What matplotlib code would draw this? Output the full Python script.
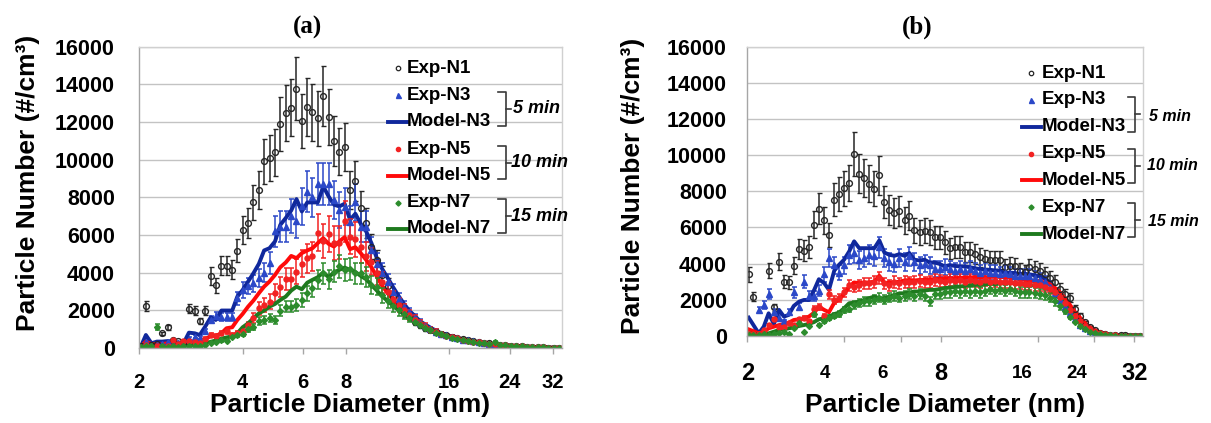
import matplotlib
matplotlib.use('Agg')
import matplotlib.pyplot as plt
from matplotlib.ticker import NullLocator, NullFormatter
import numpy as np

plt.rcParams['font.family'] = ['Liberation Sans', 'DejaVu Sans']

# SMPS bin mid-points (nm)
diam = [2.02, 2.09, 2.17, 2.25, 2.33, 2.42, 2.51, 2.60, 2.69, 2.79,
        2.90, 3.00, 3.11, 3.23, 3.34, 3.47, 3.59, 3.73, 3.86, 4.00,
        4.15, 4.30, 4.46, 4.62, 4.79, 4.97, 5.15, 5.34, 5.54, 5.74,
        5.95, 6.17, 6.39, 6.62, 6.87, 7.12, 7.38, 7.65, 7.93, 8.22,
        8.52, 8.83, 9.16, 9.49, 9.84, 10.2, 10.6, 11.0, 11.4, 11.8,
        12.2, 12.7, 13.1, 13.6, 14.1, 14.6, 15.1, 15.7, 16.3, 16.9,
        17.5, 18.1, 18.8, 19.5, 20.2, 20.9, 21.7, 22.5, 23.3, 24.2,
        25.1, 26.0, 26.9, 27.9, 29.0, 30.0, 31.1, 32.2, 33.4]

# ---- panel (a) ----
a_n1 = [100, 2230, 150, 200, 780, 1100, 450, 350, 200, 2090,
        1990, 1440, 1990, 3830, 3330, 4380, 4380, 4150, 5160, 6280,
        6630, 7730, 8370, 9920, 10100, 10390, 11910, 12480, 12770, 13780,
        12060, 12800, 12520, 12200, 13370, 12270, 11010, 10410, 10670, 8400,
        8850, 7430, 6630, 5390, 4650, 3900, 3300, 2700, 2300, 1900,
        1700, 1400, 1200, 1050, 950, 850, 750, 680, 600, 530,
        470, 420, 370, 320, 280, 240, 210, 180, 160, 130,
        110, 90, 70, 55, 40, 30, 20, 10, 5]
a_n3_exp = [0, 300, 100, 150, 200, 300, 150, 250, 100, 500,
            600, 550, 900, 1500, 1700, 1630, 1630, 1630, 2640, 3080,
            3300, 3440, 3700, 4000, 4500, 6190, 6450, 6450, 7020, 6720,
            7520, 8300, 8000, 8700, 8700, 8700, 7870, 7340, 7500, 6670,
            7730, 6450, 6450, 5210, 4470, 4000, 3500, 3000, 2600, 2200,
            1900, 1600, 1350, 1150, 1000, 870, 760, 670, 590, 520,
            450, 400, 350, 300, 260, 220, 190, 160, 140, 115,
            95, 80, 65, 50, 40, 30, 20, 15, 10]
a_n3_mod = [70, 690, 250, 340, 340, 370, 340, 280, 250, 815,
            780, 690, 1130, 1630, 1490, 1990, 1990, 1990, 2730, 3080,
            3530, 3970, 4470, 5180, 5300, 5660, 6540, 6900, 7300, 7910,
            7250, 7730, 7730, 7730, 8580, 8050, 7610, 7520, 7660, 6810,
            7130, 6600, 6190, 5570, 4770, 4200, 3700, 3200, 2750, 2350,
            2000, 1700, 1450, 1250, 1080, 930, 800, 700, 610, 530,
            460, 400, 350, 300, 260, 220, 190, 160, 140, 115,
            95, 80, 65, 50, 40, 30, 20, 15, 10]
a_n5_exp = [0, 150, 60, 80, 60, 120, 420, 200, 350, 350,
            300, 250, 500, 700, 650, 800, 900, 700, 800, 900,
            1200, 1600, 2100, 2300, 2460, 2910, 3230, 3650, 3650, 4060,
            4470, 4770, 4860, 6130, 5660, 6060, 5570, 5600, 6720, 5920,
            5780, 5390, 4860, 4590, 3970, 3500, 3000, 2600, 2300, 2000,
            1750, 1500, 1300, 1130, 980, 860, 750, 660, 580, 510,
            450, 390, 340, 295, 255, 220, 190, 165, 140, 120,
            100, 85, 68, 54, 42, 32, 23, 15, 9]
a_n5_mod = [70, 340, 210, 210, 210, 250, 280, 250, 250, 340,
            340, 430, 460, 640, 640, 780, 1050, 1100, 1490, 1810,
            2200, 2520, 2910, 3260, 3530, 3880, 4290, 4540, 4890, 4770,
            5040, 5180, 5300, 5570, 5830, 5530, 5390, 5660, 5890, 5250,
            5350, 5040, 4680, 4290, 3790, 3300, 2900, 2550, 2250, 1980,
            1720, 1500, 1300, 1130, 980, 850, 740, 650, 570, 500,
            440, 385, 335, 290, 250, 215, 185, 160, 140, 118,
            98, 82, 66, 52, 40, 30, 21, 14, 8]
a_n7_exp = [50, 100, 80, 1100, 80, 60, 80, 60, 80, 90,
            100, 120, 150, 250, 300, 400, 350, 600, 700, 750,
            1000, 1100, 1450, 1500, 1600, 1490, 1990, 2200, 2200, 2290,
            2550, 2910, 3170, 3620, 3970, 3650, 4060, 4330, 4150, 4180,
            3970, 3970, 3760, 3350, 3260, 2800, 2500, 2250, 2000, 1800,
            1600, 1400, 1230, 1080, 940, 820, 720, 630, 550, 480,
            420, 370, 320, 280, 245, 210, 330, 155, 135, 115,
            95, 80, 65, 52, 40, 30, 21, 14, 8]
a_n7_mod = [50, 150, 120, 100, 100, 100, 100, 110, 120, 150,
            180, 200, 250, 330, 400, 500, 560, 620, 780, 1100,
            1310, 1580, 1840, 1990, 2200, 2340, 2550, 2730, 3050, 3260,
            3120, 3470, 3620, 3760, 4010, 3760, 4010, 4150, 4270, 4150,
            4040, 3830, 3650, 3350, 3050, 2750, 2480, 2230, 2000, 1780,
            1580, 1390, 1220, 1070, 930, 810, 710, 620, 545, 478,
            420, 368, 322, 280, 244, 210, 182, 157, 135, 115,
            96, 80, 65, 52, 40, 30, 21, 14, 8]

# ---- panel (b) ----
b_n1 = [3410, 2170, 50, 50, 3610, 1575, 4110, 3000, 2950, 3870,
        4800, 4720, 4910, 6150, 7040, 6390, 5600, 7540, 7860, 8170,
        8470, 10060, 8970, 8750, 8430, 8150, 8880, 7390, 6950, 6800,
        6910, 6390, 6650, 5840, 5740, 5820, 5740, 5450, 5450, 5170,
        4850, 4910, 4910, 4630, 4630, 4540, 4340, 4240, 4170, 4170,
        4170, 3800, 3890, 3840, 3610, 3520, 3800, 3700, 3600, 3400,
        3200, 3000, 2600, 2300, 2100, 1500, 1100, 750, 480, 300,
        170, 100, 60, 35, 20, 12, 8, 5, 5]
b_n3_exp = [0, 0, 1400, 1700, 2300, 1300, 1000, 800, 1300, 2400,
            1600, 3000, 2200, 2200, 2500, 3400, 4300, 3900, 3500, 3900,
            4500, 4600, 4200, 4300, 4500, 4400, 4900, 4300, 4100, 4000,
            4300, 4100, 4400, 4100, 3900, 4000, 3900, 3700, 3700, 3800,
            3700, 3600, 3700, 3600, 3700, 3600, 3500, 3600, 3500, 3500,
            3400, 3500, 3400, 3300, 3300, 3300, 3300, 3200, 3100, 2950,
            2700, 2350, 2000, 1600, 1250, 900, 620, 400, 250, 150,
            85, 45, 22, 10, 5, 3, 2, 1, 0]
b_n3_mod = [1000, 590, 130, 500, 1240, 650, 1430, 1060, 1150, 1650,
            1890, 1980, 1980, 2540, 3130, 2910, 2540, 3610, 3930, 4210,
            4670, 5230, 4850, 4850, 4850, 4850, 5280, 4610, 4480, 4430,
            4520, 4430, 4580, 4210, 4170, 4210, 4060, 4060, 3980, 3840,
            3910, 3870, 3840, 3840, 3800, 3740, 3690, 3650, 3650, 3610,
            3610, 3470, 3500, 3470, 3430, 3430, 3400, 3350, 3300, 3150,
            2950, 2650, 2300, 1900, 1500, 1100, 780, 520, 330, 200,
            110, 60, 30, 15, 8, 4, 2, 1, 0]
b_n5_exp = [100, 80, 100, 300, 600, 900, 500, 500, 700, 600,
            900, 1000, 800, 1500, 1600, 1100, 2300, 2000, 2100, 2400,
            2800, 2700, 2800, 2900, 2900, 3000, 3200, 2900, 2800, 3000,
            2900, 3000, 2950, 3000, 3050, 2950, 3000, 3100, 3050, 3000,
            3100, 3050, 3100, 3000, 3100, 3050, 3000, 3100, 3000, 3050,
            3000, 2950, 3000, 2900, 2900, 2850, 2850, 2800, 2800, 2700,
            2600, 2400, 2150, 1800, 1450, 1100, 800, 560, 370, 230,
            130, 75, 40, 20, 10, 6, 3, 2, 1]
b_n5_mod = [350, 250, 130, 220, 410, 500, 590, 650, 720, 870,
            910, 960, 1060, 1280, 1610, 1430, 1300, 1830, 2020, 2320,
            2720, 2950, 2910, 2950, 2950, 3000, 3320, 2910, 2950, 2950,
            3000, 3060, 3090, 3060, 3090, 3090, 3130, 3130, 3170, 3170,
            3190, 3190, 3210, 3210, 3230, 3240, 3240, 3240, 3260, 3260,
            3260, 3240, 3210, 3170, 3130, 3090, 3050, 3020, 3000, 2950,
            2850, 2650, 2400, 2050, 1700, 1330, 1000, 700, 470, 300,
            180, 100, 55, 30, 15, 8, 4, 2, 1]
b_n7_exp = [30, 50, 30, 80, 60, 100, 150, 200, 80, 400,
            700, 200, 550, 1200, 600, 800, 1000, 1100, 1200, 1400,
            1500, 1700, 1800, 1900, 1900, 2000, 2100, 2000, 2100, 2200,
            2100, 2200, 2300, 2200, 2300, 2200, 1900, 2300, 2300, 2400,
            2400, 2500, 2400, 2500, 2400, 2500, 2400, 2500, 2600, 2500,
            2600, 2500, 2600, 2500, 2400, 2400, 2400, 2350, 2300, 2250,
            2100, 1900, 1650, 1350, 1050, 780, 540, 350, 215, 125,
            70, 38, 18, 10, 5, 3, 2, 1, 0]
b_n7_mod = [130, 100, 60, 100, 130, 220, 315, 350, 410, 460,
            540, 590, 650, 760, 910, 960, 1060, 1200, 1280, 1520,
            1800, 1830, 1890, 1980, 2080, 2170, 2080, 2080, 2170, 2260,
            2350, 2350, 2390, 2450, 2450, 2500, 2540, 2540, 2580, 2630,
            2670, 2690, 2720, 2760, 2800, 2820, 2820, 2850, 2870, 2870,
            2890, 2910, 2910, 2910, 2870, 2850, 2800, 2780, 2750, 2700,
            2550, 2350, 2050, 1700, 1350, 1000, 700, 460, 290, 170,
            95, 50, 25, 13, 6, 3, 2, 1, 0]

# relative error bars of the experimental series (N1, N3, N5, N7)
a_err = [0.12, 0.13, 0.16, 0.14]
b_err = [0.12, 0.12, 0.11, 0.12]

xtick_vals = [2, 4, 6, 8, 16, 24, 32]
xtick_text = ['2', '4', '6', '8', '16', '24', '32']
legend_names = ['Exp-N1', 'Exp-N3', 'Model-N3', 'Exp-N5', 'Model-N5',
                'Exp-N7', 'Model-N7']
time_labels = ['5 min', '10 min', '15 min']

BLACK = '#262626'
BLUE_L = '#10289C'
BLUE_M = '#2B48C8'
RED_L = '#FF0A0A'
RED_M = '#F22222'
GREEN_L = '#1E7A1E'
GREEN_M = '#2C8C2C'
GRID = '#C3C3C3'


def draw_panel(ax, n1, n3e, n3m, n5e, n5m, n7e, n7m, err):
    x = np.array(diam)
    ekw = dict(elinewidth=1.1, capsize=1.8, capthick=1.1, linestyle='none')
    y = np.array(n1, float)
    ax.errorbar(x, y, yerr=err[0] * y, marker='o', ms=4.2, mfc='none',
                mec=BLACK, mew=1.0, ecolor=BLACK, **ekw)
    y = np.array(n3e, float)
    ax.errorbar(x, y, yerr=err[1] * y, marker='^', ms=4.2, mfc=BLUE_M,
                mec=BLUE_M, ecolor=BLUE_M, **ekw)
    ax.plot(x, n3m, color=BLUE_L, lw=2.8)
    y = np.array(n5e, float)
    ax.errorbar(x, y, yerr=err[2] * y, marker='o', ms=3.6, mfc=RED_M,
                mec=RED_M, ecolor=RED_M, **ekw)
    ax.plot(x, n5m, color=RED_L, lw=2.8)
    y = np.array(n7e, float)
    ax.errorbar(x, y, yerr=err[3] * y, marker='D', ms=3.0, mfc=GREEN_M,
                mec=GREEN_M, ecolor=GREEN_M, **ekw)
    ax.plot(x, n7m, color=GREEN_L, lw=2.8)


def style_axes(ax, ypad, ysize):
    ax.set_xscale('log', base=2)
    ax.set_xlim(2, 34)
    ax.set_ylim(0, 16000)
    ax.set_yticks(range(0, 16001, 2000))
    ax.set_xticks(xtick_vals)
    ax.xaxis.set_minor_locator(NullLocator())
    ax.xaxis.set_minor_formatter(NullFormatter())
    ax.yaxis.grid(True, color=GRID, lw=1.0)
    ax.set_axisbelow(True)
    ax.tick_params(axis='x', length=4.5, width=1, color='#A6A6A6',
                   labelbottom=False)
    ax.tick_params(axis='y', length=0, pad=ypad, labelsize=ysize)
    for lab in ax.get_yticklabels():
        lab.set_fontweight('bold')
    for s in ['left', 'bottom']:
        ax.spines[s].set_color('#A6A6A6')
    for s in ['top', 'right']:
        ax.spines[s].set_color('#D0D0D0')
    for s in ax.spines.values():
        s.set_linewidth(1.0)


def xlabels(ax, dy, sizes, dxs):
    for v, t, fs, dx in zip(xtick_vals, xtick_text, sizes, dxs):
        ax.annotate(t, xy=(v, 0), xycoords=('data', 'axes fraction'),
                    xytext=(dx, -dy), textcoords='offset points',
                    ha='center', va='center', fontsize=fs,
                    fontweight='bold')


def legend(ax, rows, xm, xl0, xl1, xt, fs):
    tr = ax.transAxes
    kw = dict(transform=tr, clip_on=False)
    ax.plot([xm], [rows[0]], marker='o', ms=3.2, mfc='none', mec=BLACK,
            mew=0.9, **kw)
    ax.plot([xm], [rows[1]], marker='^', ms=3.6, color=BLUE_M, **kw)
    ax.plot([xl0, xl1], [rows[2]] * 2, color=BLUE_L, lw=2.8, **kw)
    ax.plot([xm], [rows[3]], marker='o', ms=3.0, color=RED_M, **kw)
    ax.plot([xl0, xl1], [rows[4]] * 2, color=RED_L, lw=2.8, **kw)
    ax.plot([xm], [rows[5]], marker='D', ms=2.6, color=GREEN_M, **kw)
    ax.plot([xl0, xl1], [rows[6]] * 2, color=GREEN_L, lw=2.8, **kw)
    for yy, name in zip(rows, legend_names):
        ax.text(xt, yy, name, transform=tr, fontsize=fs, fontweight='bold',
                ha='left', va='center')


def brackets(ax, spans, xv, w, tick, label_pos, fs):
    kw = dict(transform=ax.transAxes, clip_on=False, color='#3A3A3A', lw=1.2)
    for (y0, y1), (lx, ly), txt in zip(spans, label_pos, time_labels):
        ax.plot([xv - w, xv, xv, xv - w], [y0, y0, y1, y1], **kw)
        ym = 0.5 * (y0 + y1)
        ax.plot([xv, xv + tick], [ym, ym], **kw)
        ax.text(lx, ly, txt, transform=ax.transAxes, fontsize=fs,
                fontweight='bold', style='italic', ha='left', va='center')


fig = plt.figure(figsize=(12.11, 4.23), dpi=100)
ax_a = fig.add_axes([0.11503, 0.17730, 0.34880, 0.71229])
ax_b = fig.add_axes([0.61710, 0.20638, 0.32651, 0.68251])

draw_panel(ax_a, a_n1, a_n3_exp, a_n3_mod, a_n5_exp, a_n5_mod,
           a_n7_exp, a_n7_mod, a_err)
draw_panel(ax_b, b_n1, b_n3_exp, b_n3_mod, b_n5_exp, b_n5_mod,
           b_n7_exp, b_n7_mod, b_err)

style_axes(ax_a, 17.5, 15.5)
style_axes(ax_b, 14.8, 15.5)

xlabels(ax_a, 24.5, [14.5] * 7, [0] * 7)
xlabels(ax_b, 27.5, [17, 13.5, 13.5, 17, 13.5, 13.5, 17],
        [0, -13.9, -13.2, 0, -11.2, -12.7, 0])

legend(ax_a, [0.9283, 0.8397, 0.7511, 0.6595, 0.5709, 0.4813, 0.3950],
       0.6125, 0.5895, 0.6338, 0.6338, 13.5)
brackets(ax_a, [(0.7368, 0.8497), (0.5599, 0.6714), (0.3807, 0.4935)],
         0.868, 0.018, 0.012,
         [(0.885, 0.7965), (0.879, 0.6173), (0.881, 0.4381)], 13)

legend(ax_b, [0.9089, 0.8165, 0.7240, 0.6294, 0.5393, 0.4447, 0.3522],
       0.7167, 0.694, 0.7428, 0.7446, 13.5)
brackets(ax_b, [(0.7066, 0.8258), (0.5279, 0.6457), (0.3429, 0.4607)],
         0.9805, 0.018, 0.013,
         [(1.016, 0.7586), (1.010, 0.5889), (1.013, 0.3949)], 11.5)

ylab = 'Particle Number (#/cm³)'
xlab = 'Particle Diameter (nm)'
fig.text(0.0231, 0.567, ylab, rotation=90, ha='center', va='center',
         fontsize=19, fontweight='bold')
fig.text(0.5227, 0.560, ylab, rotation=90, ha='center', va='center',
         fontsize=19, fontweight='bold')
fig.text(0.289, 0.0426, xlab, ha='center', va='center', fontsize=19,
         fontweight='bold')
fig.text(0.7803, 0.0426, xlab, ha='center', va='center', fontsize=19,
         fontweight='bold')
fig.text(0.2543, 0.936, '(a)', ha='center', va='center', fontsize=18,
         fontweight='bold', family='Liberation Serif')
fig.text(0.757, 0.936, '(b)', ha='center', va='center', fontsize=18,
         fontweight='bold', family='Liberation Serif')

fig.savefig('out.png', dpi=100)
